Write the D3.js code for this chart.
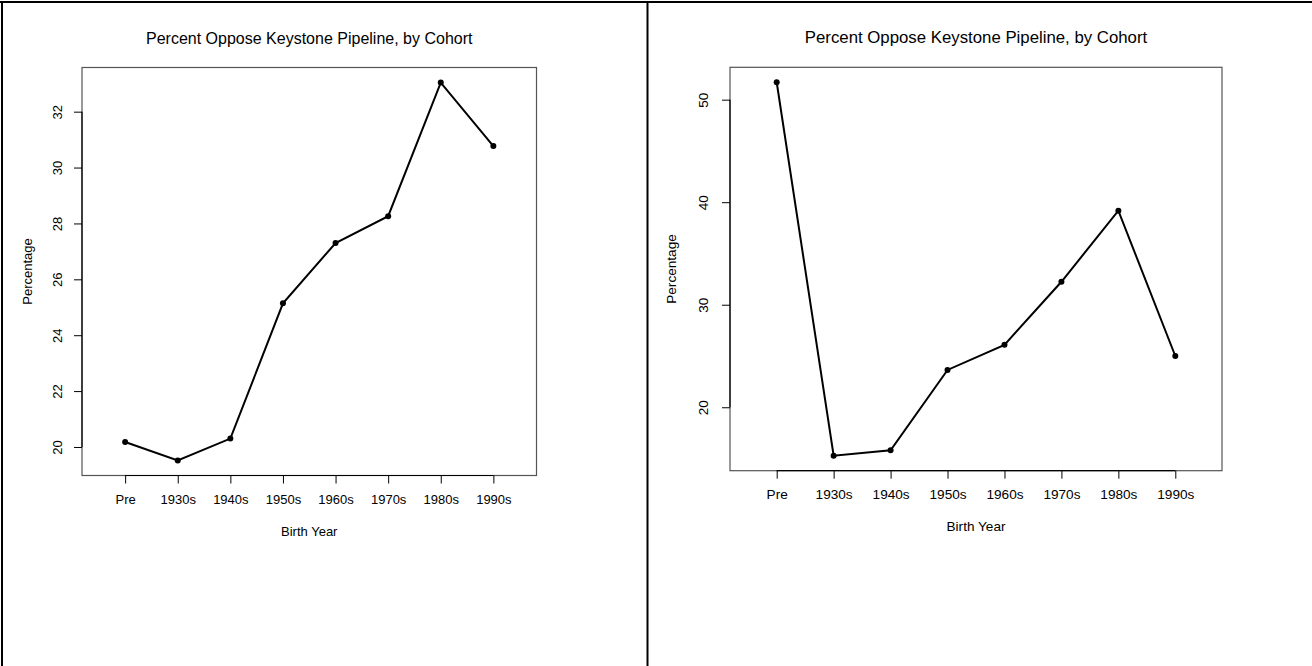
<!DOCTYPE html>
<html>
<head>
<meta charset="utf-8">
<script src="https://cdn.jsdelivr.net/npm/d3@7"></script>
<style>
  body { margin: 0; background: #fff; }
  svg { display: block; font-family: "Liberation Sans", Arial, Helvetica, sans-serif; }
</style>
</head>
<body>
<script>
// Data
const cohorts = ["Pre", "1930s", "1940s", "1950s", "1960s", "1970s", "1980s", "1990s"];
const opposeLeft = [20.18, 19.52, 20.30, 25.14, 27.30, 28.26, 33.04, 30.77];
const opposeRight = [51.7, 15.27, 15.8, 23.64, 26.09, 32.24, 39.17, 25.0];
const ticksLeft = [20, 22, 24, 26, 28, 30, 32];
const ticksRight = [20, 30, 40, 50];
const titleText = "Percent Oppose Keystone Pipeline, by Cohort";

const W = 1312, H = 666;

const svg = d3.select("body")
  .append("svg")
  .attr("width", W)
  .attr("height", H);

// panel frames (thick black lines)
svg.append("line").attr("x1", 0).attr("x2", W).attr("y1", 2).attr("y2", 2)
  .attr("stroke", "#000").attr("stroke-width", 2);
svg.append("line").attr("x1", 2).attr("x2", 2).attr("y1", 1).attr("y2", H)
  .attr("stroke", "#000").attr("stroke-width", 2);
svg.append("line").attr("x1", 647.5).attr("x2", 647.5).attr("y1", 1).attr("y2", H)
  .attr("stroke", "#000").attr("stroke-width", 2);

// draw one R-style plot
function drawPanel(p) {
  const g = svg.append("g");

  const x = d3.scalePoint()
    .domain(cohorts)
    .range([p.x0, p.x1])
    .padding(0.82);

  // R extends the data range by 4% on each side
  const ext = d3.extent(p.values);
  const pad = (ext[1] - ext[0]) * 0.04;
  const y = d3.scaleLinear()
    .domain([ext[0] - pad, ext[1] + pad])
    .range([p.y1, p.y0]);

  // box
  g.append("rect")
    .attr("x", p.x0).attr("y", p.y0)
    .attr("width", p.x1 - p.x0).attr("height", p.y1 - p.y0)
    .attr("fill", "none")
    .attr("stroke", "#555")
    .attr("stroke-width", 1.2);

  // x axis
  const xAxis = g.append("g")
    .attr("transform", "translate(0," + p.y1 + ")")
    .call(d3.axisBottom(x).tickSize(8).tickSizeOuter(0).tickPadding(10));
  xAxis.select(".domain").remove();
  xAxis.selectAll(".tick line").attr("stroke", "#000");
  xAxis.selectAll(".tick text")
    .attr("font-size", p.lab + "px")
    .attr("font-family", "Liberation Sans, Arial, sans-serif")
    .attr("fill", "#000")
    .attr("dy", null)
    .attr("y", p.xlabOff)
    .attr("dominant-baseline", "central");
  xAxis.append("line")
    .attr("x1", x(cohorts[0])).attr("x2", x(cohorts[cohorts.length - 1]))
    .attr("stroke", "#000").attr("stroke-width", 1.2);

  // y axis
  const yAxis = g.append("g")
    .attr("transform", "translate(" + p.x0 + ",0)")
    .call(d3.axisLeft(y).tickValues(p.ticks).tickSize(8).tickSizeOuter(0));
  yAxis.select(".domain").remove();
  yAxis.selectAll(".tick line").attr("stroke", "#000");
  yAxis.selectAll(".tick text")
    .attr("font-size", p.lab + "px")
    .attr("font-family", "Liberation Sans, Arial, sans-serif")
    .attr("fill", "#000")
    .attr("x", null).attr("dy", null)
    .attr("text-anchor", "middle")
    .attr("dominant-baseline", "central")
    .attr("transform", "translate(" + (-p.ytickOff) + ",0) rotate(-90)");
  yAxis.append("line")
    .attr("x1", 0).attr("x2", 0)
    .attr("y1", y(p.ticks[0])).attr("y2", y(p.ticks[p.ticks.length - 1]))
    .attr("stroke", "#000").attr("stroke-width", 1.2);

  // line + points
  const line = d3.line()
    .x((d, i) => x(cohorts[i]))
    .y(d => y(d));

  g.append("path")
    .datum(p.values)
    .attr("d", line)
    .attr("fill", "none")
    .attr("stroke", "#000")
    .attr("stroke-width", 2);

  g.selectAll("circle")
    .data(p.values)
    .enter()
    .append("circle")
    .attr("cx", (d, i) => x(cohorts[i]))
    .attr("cy", d => y(d))
    .attr("r", 3)
    .attr("fill", "#000");

  // labels
  const cx = (p.x0 + p.x1) / 2;
  g.append("text")
    .attr("x", cx).attr("y", p.y0 - 29.5)
    .attr("text-anchor", "middle")
    .attr("dominant-baseline", "central")
    .attr("font-size", p.title + "px")
    .text(titleText);

  g.append("text")
    .attr("x", cx).attr("y", p.y1 + 56)
    .attr("text-anchor", "middle")
    .attr("dominant-baseline", "central")
    .attr("font-size", p.lab + "px")
    .text("Birth Year");

  g.append("text")
    .attr("transform", "translate(" + (p.x0 - p.ylabOff) + "," + ((p.y0 + p.y1) / 2) + ") rotate(-90)")
    .attr("text-anchor", "middle")
    .attr("dominant-baseline", "central")
    .attr("font-size", p.lab + "px")
    .text("Percentage");
}

drawPanel({
  values: opposeLeft, ticks: ticksLeft,
  x0: 82, x1: 536.5, y0: 67.5, y1: 475.5,
  title: 16, lab: 13, xlabOff: 24, ytickOff: 25, ylabOff: 55
});

drawPanel({
  values: opposeRight, ticks: ticksRight,
  x0: 730, x1: 1222, y0: 67.3, y1: 470.7,
  title: 16.8, lab: 13.6, xlabOff: 24, ytickOff: 27, ylabOff: 59
});
</script>
</body>
</html>
